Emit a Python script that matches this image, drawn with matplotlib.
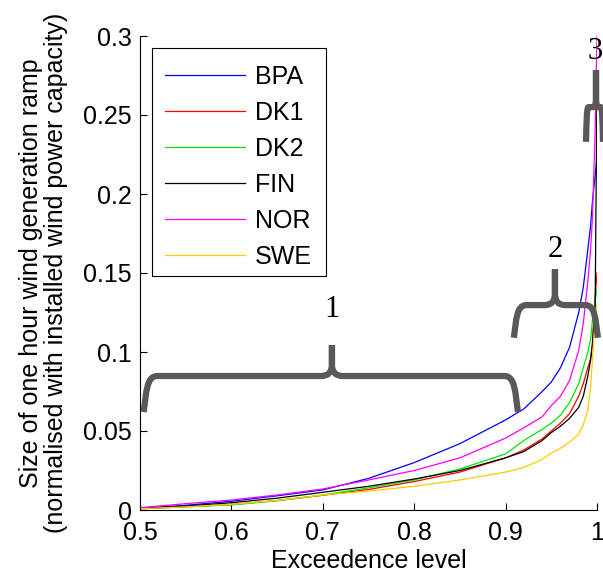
import matplotlib
matplotlib.use("Agg")
import matplotlib.pyplot as plt
from matplotlib.path import Path
from matplotlib.patches import PathPatch, Rectangle

plt.rcParams['font.family'] = ['Liberation Sans', 'DejaVu Sans']

# Exceedence levels (x) and ramp sizes for each area
exceedence = [0.5, 0.55, 0.6, 0.65, 0.7, 0.75, 0.8, 0.85, 0.9, 0.92, 0.94, 0.95,
              0.96, 0.97, 0.98, 0.985, 0.99, 0.993, 0.995, 0.998, 1.0]
bpa = [0.001, 0.003, 0.0055, 0.009, 0.0127, 0.020, 0.030, 0.042, 0.057, 0.064, 0.075, 0.081,
       0.090, 0.103, 0.125, 0.141, 0.165, 0.180, 0.195, 0.212, 0.222]
dk1 = [0.0008, 0.002, 0.0035, 0.006, 0.0093, 0.013, 0.018, 0.024, 0.033, 0.038, 0.045, 0.050,
       0.055, 0.061, 0.072, 0.080, 0.090, 0.096, 0.105, 0.135, 0.150]
dk2 = [0.0008, 0.002, 0.0032, 0.0058, 0.0095, 0.014, 0.019, 0.026, 0.0355, 0.044, 0.051, 0.055,
       0.060, 0.068, 0.080, 0.090, 0.100, 0.108, 0.120, 0.133, 0.140]
fin = [0.001, 0.0025, 0.0046, 0.0075, 0.0112, 0.015, 0.0196, 0.025, 0.033, 0.037, 0.044, 0.049,
       0.053, 0.058, 0.065, 0.072, 0.085, 0.095, 0.105, 0.130, 0.270]
nor = [0.0015, 0.004, 0.0063, 0.0095, 0.0133, 0.019, 0.025, 0.033, 0.0455, 0.052, 0.059, 0.066,
       0.072, 0.082, 0.101, 0.118, 0.145, 0.165, 0.185, 0.240, 0.300]
swe = [0.0008, 0.002, 0.0036, 0.006, 0.0095, 0.012, 0.015, 0.019, 0.024, 0.027, 0.032, 0.036,
       0.039, 0.043, 0.048, 0.054, 0.063, 0.078, 0.095, 0.122, 0.130]

series_names = ['BPA', 'DK1', 'DK2', 'FIN', 'NOR', 'SWE']
series_values = [bpa, dk1, dk2, fin, nor, swe]
series_colors = ['#0000ff', '#ff0000', '#00e600', '#000000', '#ff00ff', '#ffcc00']

x_ticks = [0.5, 0.6, 0.7, 0.8, 0.9, 1.0]
x_tick_labels = ['0.5', '0.6', '0.7', '0.8', '0.9', '1']
y_ticks = [0, 0.05, 0.1, 0.15, 0.2, 0.25, 0.3]
y_tick_labels = ['0', '0.05', '0.1', '0.15', '0.2', '0.25', '0.3']

# Brace annotations: label, x-left, x-right, x-mid, y-bottom, y-horizontal, y-top, text x, text y
braces = [
    ('1', 0.504, 0.9135, 0.71, 0.062, 0.0848, 0.1044, 0.71, 0.1266),
    ('2', 0.909, 1.001, 0.954, 0.109, 0.1297, 0.1525, 0.954, 0.1646),
    ('3', 0.988, 1.0066, 0.9989, 0.233, 0.255, 0.2785, 0.9975, 0.2905),
]

fig = plt.figure(figsize=(6.03, 5.75), dpi=100)
ax = fig.add_axes([140 / 603, 65 / 575, 457 / 603, 474 / 575])

lines = []
for name, vals, col in zip(series_names, series_values, series_colors):
    ln, = ax.plot(exceedence, vals, color=col, lw=0.9, label=name)
    lines.append(ln)

ax.set_xlim(0.5, 1.0)
ax.set_ylim(0, 0.3)
ax.set_xticks(x_ticks)
ax.set_xticklabels(x_tick_labels)
ax.set_yticks(y_ticks)
ax.set_yticklabels(y_tick_labels)
ax.tick_params(direction='in', length=5, width=0.8, labelsize=18)
ax.tick_params(axis='x', pad=8)
ax.tick_params(axis='y', pad=6)
for s in ['top', 'right']:
    ax.spines[s].set_visible(False)
for s in ['left', 'bottom']:
    ax.spines[s].set_linewidth(0.8)

ax.set_xlabel('Exceedence level', fontsize=18, labelpad=3)
ax.set_ylabel('Size of one hour wind generation ramp\n(normalised with installed wind power capacity)',
              fontsize=18, labelpad=11, linespacing=1.05)

# Legend (frame drawn separately to match the wide box)
leg = ax.legend(handles=lines, loc='upper left', bbox_to_anchor=(0.028, 0.966),
                frameon=False, fontsize=18, handlelength=3.2, handletextpad=0.4,
                labelspacing=0.48, borderpad=0.5, borderaxespad=0)
ax.add_patch(Rectangle((12 / 457, (510 - 276) / 474), 174 / 457, 228 / 474,
                       transform=ax.transAxes, fill=False, lw=0.8, ec='black', zorder=3))

brace_color = '#595959'


def half_brace(xe, xc, xm, yb, yh, yt, rx, ry):
    verts = [(xe, yb),
             (xc, yb + 0.55 * (yh - yb)), (xc, yh), (xc + rx, yh),
             (xm - rx, yh),
             (xm, yh), (xm, yh + ry),
             (xm, yt)]
    codes = [Path.MOVETO, Path.CURVE4, Path.CURVE4, Path.CURVE4,
             Path.LINETO, Path.CURVE3, Path.CURVE3, Path.LINETO]
    return Path(verts, codes)


for lab, x0, x1, xm, yb, yh, yt, tx, ty in braces:
    width = x1 - x0
    rx = min(0.012, width * 0.12)
    ry = min(0.007, (yt - yh) * 0.45)
    off = min(0.003, width * 0.03)
    pL = half_brace(x0, x0 + off, xm, yb, yh, yt, rx, ry)
    pR = half_brace(x1, x1 - off, xm, yb, yh, yt, -rx, ry)
    for p in (pL, pR):
        ax.add_patch(PathPatch(p, fill=False, ec=brace_color, lw=4.5,
                               capstyle='butt', joinstyle='round', clip_on=False, zorder=4))
    ax.text(tx, ty, lab, family=['Liberation Serif', 'DejaVu Serif'], fontsize=22,
            ha='center', va='center', zorder=5, clip_on=False)

fig.savefig('out.png', dpi=100)
